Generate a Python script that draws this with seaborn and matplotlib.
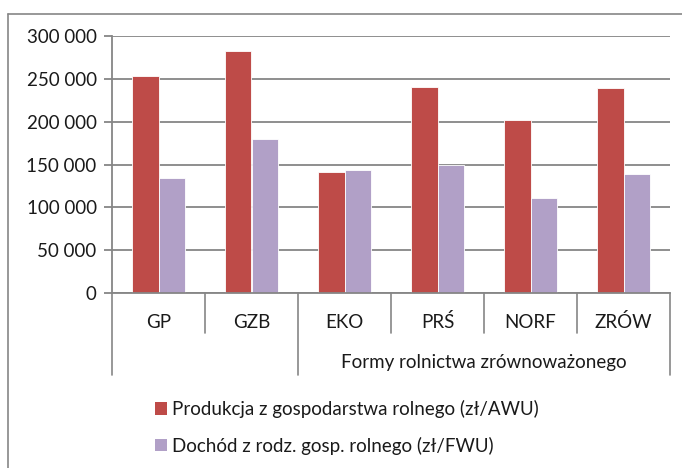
import pandas as pd
import seaborn as sns
import matplotlib.pyplot as plt
from matplotlib.transforms import blended_transform_factory
from matplotlib.patches import Patch

sns.set_style("white")
plt.rcParams["font.family"] = ["Lato", "DejaVu Sans"]

## --- Data
kategorie = ["GP", "GZB", "EKO", "PRŚ", "NORF", "ZRÓW"]
produkcja = [253000, 282000, 141000, 240000, 202000, 239000]
dochod = [134500, 179500, 143000, 150000, 110500, 138500]
serie = ["Produkcja z gospodarstwa rolnego (zł/AWU)",
         "Dochód z rodz. gosp. rolnego (zł/FWU)"]
kolory = ["#BE4B48", "#B1A0C7"]
y_ticks = [0, 50000, 100000, 150000, 200000, 250000, 300000]
y_labels = ["0", "50 000", "100 000", "150 000", "200 000", "250 000", "300 000"]
grupa = "Formy rolnictwa zrównoważonego"
## ---

df = pd.DataFrame({
    "kategoria": kategorie * 2,
    "wartosc": produkcja + dochod,
    "seria": [serie[0]] * len(kategorie) + [serie[1]] * len(kategorie),
})

GRAY = "#868686"
TXT = "#1a1a1a"
FS = 13.5

fig = plt.figure(figsize=(6.82, 4.68), dpi=100)

# outer chart frame (cut off on the right / bottom)
fig.add_artist(plt.Line2D([8 / 682, 1.0], [1 - 14 / 468] * 2, color=GRAY, lw=1.2))
fig.add_artist(plt.Line2D([8 / 682] * 2, [0.0, 1 - 14 / 468], color=GRAY, lw=1.2))

ax = fig.add_axes([112 / 682, 1 - 293 / 468, (670 - 112) / 682, (293 - 36) / 468])
sns.barplot(data=df, x="kategoria", y="wartosc", hue="seria", palette=kolory,
            width=0.56, saturation=1, edgecolor="white", linewidth=0.6, ax=ax)
ax.get_legend().remove()

ax.set_ylim(0, 300000)
ax.set_xlim(-0.5, len(kategorie) - 0.5)
ax.set_yticks(y_ticks)
ax.set_yticklabels(y_labels, fontsize=FS, color=TXT)
ax.set_xticks([])
ax.set_xlabel("")
ax.set_ylabel("")
ax.yaxis.grid(True, color=GRAY, lw=1.3)
ax.set_axisbelow(True)
ax.tick_params(axis="y", length=6, width=1.3, color=GRAY, pad=5, left=True)
for s in ["top", "right"]:
    ax.spines[s].set_visible(False)
for s in ["left", "bottom"]:
    ax.spines[s].set_color(GRAY)
    ax.spines[s].set_linewidth(1.3)

# category axis with grouped labels
tr = blended_transform_factory(ax.transData, ax.transAxes)
for i in range(len(kategorie) + 1):
    x = i - 0.5
    dol = -0.319 if i in (0, 2, len(kategorie)) else -0.156
    ax.plot([x, x], [0, dol], color=GRAY, lw=1.2, transform=tr, clip_on=False)
for i, k in enumerate(kategorie):
    ax.text(i, -0.113, k, transform=tr, ha="center", va="center",
            fontsize=FS, color=TXT)
ax.text(3.5, -0.272, grupa, transform=tr, ha="center", va="center",
        fontsize=FS, color=TXT)

handles = [Patch(facecolor=c, edgecolor="none") for c in kolory]
fig.legend(handles, serie, loc="upper left", bbox_to_anchor=(138 / 682, 1 - 383 / 468),
           frameon=False, fontsize=FS, handlelength=0.65, handleheight=0.65,
           handletextpad=0.25, labelspacing=1.0, labelcolor=TXT)

fig.savefig("out.png", dpi=100)
